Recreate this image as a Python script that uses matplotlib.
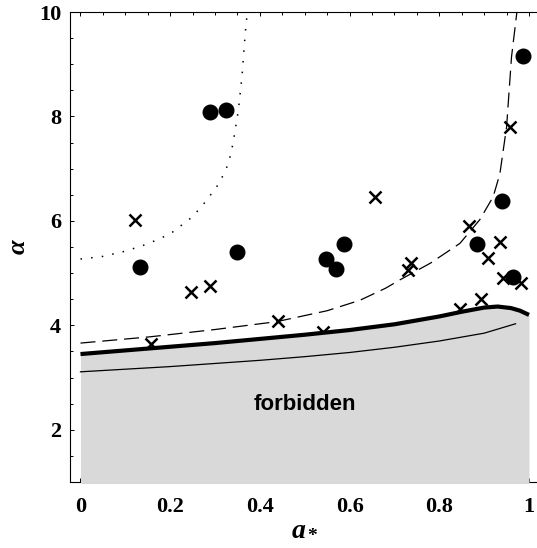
import matplotlib
matplotlib.use('Agg')
import matplotlib.pyplot as plt
from matplotlib.ticker import MultipleLocator

# boundary curves
thick_x = [0, 0.1, 0.2, 0.3, 0.4, 0.5, 0.6, 0.7, 0.8, 0.85, 0.9, 0.93, 0.96, 0.98, 1.0]
thick_y = [3.45, 3.52, 3.59, 3.66, 3.74, 3.82, 3.91, 4.02, 4.17, 4.26, 4.34, 4.36, 4.33, 4.28, 4.2]

thin_x = [0, 0.1, 0.2, 0.3, 0.4, 0.5, 0.6, 0.7, 0.8, 0.9, 0.97]
thin_y = [3.11, 3.16, 3.21, 3.27, 3.33, 3.40, 3.48, 3.58, 3.70, 3.85, 4.03]

dash_x = [0, 0.155, 0.3, 0.437, 0.55, 0.623, 0.68, 0.712, 0.78, 0.846, 0.89, 0.92, 0.935, 0.95, 0.961, 0.973]
dash_y = [3.66, 3.78, 3.92, 4.07, 4.28, 4.48, 4.71, 4.87, 5.19, 5.57, 6.02, 6.46, 6.9, 7.8, 9.14, 10.0]

dot_x = [0, 0.05, 0.1, 0.15, 0.2, 0.25, 0.28, 0.31, 0.33, 0.34, 0.352, 0.36, 0.367, 0.372]
dot_y = [5.27, 5.32, 5.42, 5.56, 5.75, 6.08, 6.38, 6.73, 7.1, 7.48, 8.12, 8.76, 9.56, 10.0]

# data points
circ_x = [0.133, 0.289, 0.324, 0.348, 0.547, 0.570, 0.587, 0.883, 0.939, 0.965, 0.987]
circ_y = [5.11, 8.08, 8.12, 5.41, 5.27, 5.08, 5.56, 5.55, 6.38, 4.93, 9.16]

cross_x = [0.122, 0.157, 0.246, 0.289, 0.441, 0.541, 0.657, 0.731, 0.736, 0.846,
           0.867, 0.894, 0.908, 0.935, 0.943, 0.958, 0.982]
cross_y = [6.02, 3.65, 4.64, 4.76, 4.08, 3.87, 6.45, 5.06, 5.19, 4.32,
           5.91, 4.51, 5.29, 5.60, 4.91, 7.80, 4.82]

plt.rcParams['mathtext.fontset'] = 'custom'
plt.rcParams['mathtext.it'] = 'Liberation Serif:italic:bold'
plt.rcParams['mathtext.rm'] = 'Liberation Serif:bold'

fig = plt.figure(figsize=(5.37, 5.48), dpi=100)
ax = fig.add_axes([69.5 / 537, 66 / 548, 470.5 / 537, 470 / 548])

ax.set_xlim(-0.0245, 1.0245)
ax.set_ylim(1, 10)

# forbidden region
ax.fill_between(thick_x, 0.97, thick_y, color='#d9d9d9', lw=0, zorder=3, clip_on=False)
ax.plot(thick_x, thick_y, color='black', lw=3, zorder=4, solid_capstyle='butt')
ax.plot(thin_x, thin_y, color='black', lw=0.9, zorder=4)
ax.plot(dash_x, dash_y, color='black', lw=0.9, dashes=(12, 5.5), zorder=2)
ax.plot(dot_x, dot_y, color='black', lw=1.1, linestyle=(0, (1, 6)), zorder=2)

ax.plot(cross_x, cross_y, 'x', color='black', ms=8.5, mew=1.8, zorder=2.6)
ax.plot(circ_x, circ_y, 'o', color='black', ms=10.5, zorder=2.6)

ax.text(0.5, 2.49, 'forbidden', ha='center', va='center', fontsize=16,
        fontweight='bold', family='Liberation Sans', zorder=5)

ax.xaxis.set_minor_locator(MultipleLocator(0.05))
ax.yaxis.set_major_locator(MultipleLocator(2))
ax.yaxis.set_minor_locator(MultipleLocator(0.5))
ax.set_xticks([0, 0.2, 0.4, 0.6, 0.8, 1.0])
ax.set_xticklabels(['0', '0.2', '0.4', '0.6', '0.8', '1'])
ax.tick_params(which='both', direction='in', top=True, right=False, width=0.7)
ax.tick_params(which='major', length=3)
ax.tick_params(which='minor', length=2.5)
ax.tick_params(axis='x', which='major', pad=11)
ax.tick_params(axis='y', which='major', pad=6)
for lab in ax.get_xticklabels() + ax.get_yticklabels():
    lab.set_family('Liberation Serif')
    lab.set_fontweight('bold')
    lab.set_fontsize(16)

for s in ax.spines.values():
    s.set_linewidth(0.8)

ax.set_xlabel(r'$a_*$', fontsize=20, labelpad=-3)
ax.set_ylabel(r'$\alpha$', fontsize=19, labelpad=6)

fig.savefig('out.png', dpi=100)
